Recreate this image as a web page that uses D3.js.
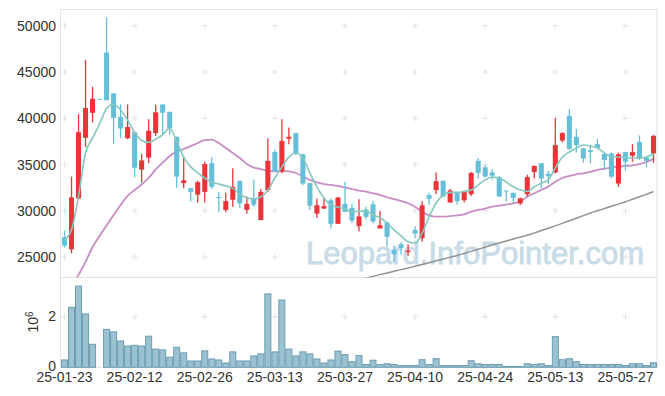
<!DOCTYPE html>
<html lang="en">
<head>
<meta charset="utf-8">
<title>Candle chart</title>
<script src="https://cdn.jsdelivr.net/npm/d3@7"></script>
<style>
  html, body { margin:0; padding:0; background:#fff; }
  svg { display:block; font-family:"Liberation Sans", Arial, sans-serif; }
  .axis text { fill:#333; font-size:14px; }
  .axis path, .axis line { display:none; }
</style>
</head>
<body>
<script>
// trading days
var dates = ["25-01-23","25-01-24","25-01-31","25-02-03","25-02-04","25-02-05","25-02-06","25-02-07","25-02-10","25-02-11",
  "25-02-12","25-02-13","25-02-14","25-02-17","25-02-18","25-02-19","25-02-20","25-02-21","25-02-24","25-02-25",
  "25-02-26","25-02-27","25-02-28","25-03-04","25-03-05","25-03-06","25-03-07","25-03-10","25-03-11","25-03-12",
  "25-03-13","25-03-14","25-03-17","25-03-18","25-03-19","25-03-20","25-03-21","25-03-24","25-03-25","25-03-26",
  "25-03-27","25-03-28","25-03-31","25-04-01","25-04-02","25-04-03","25-04-04","25-04-07","25-04-08","25-04-09",
  "25-04-10","25-04-11","25-04-14","25-04-15","25-04-16","25-04-17","25-04-18","25-04-21","25-04-22","25-04-23",
  "25-04-24","25-04-25","25-04-28","25-04-29","25-04-30","25-05-02","25-05-07","25-05-08","25-05-09","25-05-12",
  "25-05-13","25-05-14","25-05-15","25-05-16","25-05-19","25-05-20","25-05-21","25-05-22","25-05-23","25-05-26",
  "25-05-27","25-05-28","25-05-29","25-05-30","25-06-02"];

var opens = [27150,25850,31350,37900,40600,42100,47100,42700,40150,37850,
  38500,34450,35750,38400,41500,40700,38000,33000,32450,31750,
  32050,35150,31500,30100,31200,33250,30100,31300,29000,32250,
  36350,34250,37800,38400,36100,33000,29700,30250,31150,28600,
  30750,30300,28350,30150,30700,28100,28750,25800,26400,25550,
  27950,27050,31700,32250,33250,30900,32050,31150,31800,35400,
  34700,34150,33650,32200,31950,30800,31800,34200,35150,34000,
  34150,37600,40250,38000,36750,36550,37200,36150,36200,32950,
  36350,35950,37450,35750,36200];
var highs = [27850,33700,40450,46300,43400,42100,50900,42700,41500,41500,
  38500,36150,39900,41450,41500,40700,38000,35900,32450,33250,
  35300,35800,32050,31950,34600,33250,31550,33400,32350,37850,
  36600,39900,39000,38400,36200,33000,31300,31400,31350,31500,
  33150,30800,31250,30450,31100,30000,28750,26250,26600,26400,
  28350,31050,31950,34150,33250,32350,32050,32200,34200,35700,
  34900,34500,33800,32200,31950,31450,33900,34900,35150,34300,
  40000,38500,41000,38850,36800,37150,37750,36200,36300,36300,
  36400,37200,38150,35800,38200];
var lows = [26050,25400,31250,36900,39550,42100,41950,37200,37850,37750,
  33600,33050,35150,38100,38300,38200,32500,32450,31000,30900,
  30900,32350,29900,29850,30450,30300,29700,30450,29000,32050,
  34200,34050,37200,36000,32800,30100,29250,30200,28100,28600,
  29900,28650,27800,29100,28650,28100,26150,24450,25250,25150,
  27050,26650,30650,31800,31500,30900,30650,30900,31600,33500,
  33600,33350,31500,31000,30900,30600,31550,33500,32450,32900,
  34050,37400,36600,36300,35200,35150,36700,34500,33500,32600,
  34350,35300,35500,34700,35200];
var closes = [26250,31450,38500,41100,42100,42100,41950,40050,38900,39050,
  34650,35450,38650,40650,40600,38950,33700,33300,32050,33100,
  35050,32600,31400,31050,32600,30800,30750,30650,32050,35400,
  34250,37550,38000,36200,32950,30550,30600,30500,28600,31450,
  29900,28950,29400,29350,28850,28450,27200,25300,26000,25700,
  27550,30600,31300,33200,31550,32200,31050,32100,34100,34100,
  33700,33800,31550,32150,31400,31350,33650,34850,33500,33750,
  37100,38400,36700,37100,35650,36350,36800,35500,33700,36100,
  35300,36350,35650,35400,38100];
// volume, in 10^6 shares
var volumes = [0.29,2.37,3.21,2.11,0.91,0,1.50,1.40,1.04,0.84,
  0.87,0.84,1.23,0.72,0.69,0.40,0.79,0.57,0.25,0.25,
  0.65,0.33,0.29,0.17,0.61,0.25,0.25,0.45,0.53,2.90,
  0.61,2.66,0.72,0.45,0.61,0.53,0.33,0.17,0.29,0.64,
  0.50,0.22,0.46,0.11,0.28,0.11,0.14,0.11,0.07,0.07,
  0.07,0.30,0.11,0.34,0.07,0.07,0.07,0.07,0.26,0.14,
  0.11,0.11,0.11,0.03,0.03,0.03,0.14,0.11,0.14,0.07,
  1.21,0.30,0.34,0.22,0.11,0.11,0.11,0.11,0.11,0.11,
  0.07,0.14,0.14,0.07,0.18];
// moving averages as drawn
var ma5 = [26850,27950,31600,36250,37850,39400,41050,41550,40900,39800,
  38500,37600,37400,37750,38200,38950,37450,35800,34750,34100,
  33550,33100,32900,32700,32450,31800,31400,31300,31500,32250,
  33550,34750,35800,36250,35700,34100,32600,31400,30650,30400,
  30200,29900,29950,30000,29550,29250,28700,27950,27300,26650,
  26500,27600,29350,30850,31700,32000,32000,32100,32250,32800,
  33350,33650,33550,33100,32600,32250,32100,32600,33000,33350,
  34650,35820,36360,36790,37120,37010,36790,36250,35820,35820,
  35760,35710,35710,35820,36140];
var ma20 = [null,21750,23080,24480,26100,27290,28430,29560,30640,31610,
  32260,32850,33550,34470,35200,35930,36410,36680,37000,37330,
  37650,37700,37330,36790,36250,35710,35060,34680,34520,34310,
  34260,34310,34260,34090,33720,33340,33070,32900,32800,32690,
  32530,32360,32180,32070,31900,31720,31470,31280,31070,30820,
  30450,29910,29520,29370,29370,29440,29520,29630,29910,30100,
  30240,30450,30560,30670,30820,31000,31530,31900,32260,32620,
  33140,33550,33770,33950,34060,34200,34420,34560,34670,34770,
  34850,34920,35060,35280,35610];
var ma60 = Array(42).fill(null).concat([22580,22760,22920,23110,23290,23480,23650,23830,
  24020,24210,24400,24600,24790,24990,25180,25400,25620,25850,
  26080,26320,26530,26750,26960,27160,27370,27620,27870,28120,
  28380,28650,28930,29200,29480,29770,30010,30260,30500,30730,
  30980,31250,31520,31800,32080]);
var priceTicks = [25000,30000,35000,40000,45000,50000];
var volTicks = [0,2];
var dateTickIdx = [0,10,20,30,40,50,60,70,80];

var W = 665, H = 396;
var pl = 61, pr = 657, pt = 10, pm = 277.5, pb = 367.3;

var svg = d3.select("body").append("svg").attr("width", W).attr("height", H);

var x = d3.scaleBand().domain(d3.range(dates.length)).range([pl, pr]);
var bw = x.bandwidth();
var cx = function(i) { return x(i) + bw / 2; };
var yP = d3.scaleLinear().domain([22800, 51700]).range([pm, pt]);
var yV = d3.scaleLinear().domain([0, 3.55]).range([pb, pm]);

svg.append("defs").append("clipPath").attr("id", "pclip")
  .append("rect").attr("x", pl).attr("y", pt).attr("width", pr - pl).attr("height", pm - pt);

// frame
var frame = svg.append("g").attr("stroke", "#e4e4e4").attr("fill", "none");
frame.append("rect").attr("x", pl - 0.5).attr("y", pt - 0.5).attr("width", pr - pl + 0.5).attr("height", pb - pt + 0.5);
frame.append("line").attr("x1", pl).attr("x2", pr).attr("y1", pm).attr("y2", pm);

// grid crosses at tick intersections
var crosses = [];
dateTickIdx.forEach(function(i) {
  priceTicks.forEach(function(p) { crosses.push([cx(i), yP(p)]); });
  crosses.push([cx(i), yV(2)]);
});
svg.append("g").selectAll("path").data(crosses).enter().append("path")
  .attr("d", function(d) { return "M" + (d[0] - 3) + "," + d[1] + "h6M" + d[0] + "," + (d[1] - 3) + "v6"; })
  .attr("stroke", "#e2e2e2").attr("stroke-width", 1);

// watermark
svg.append("text").attr("x", 306).attr("y", 264)
  .attr("font-size", 32).attr("fill", "#c8dce7")
  .attr("stroke", "#c8dce7").attr("stroke-width", 0.8)
  .attr("textLength", 338).attr("lengthAdjust", "spacingAndGlyphs")
  .text("Leopard.InfoPointer.com");

// volume bars
var vg = svg.append("g");
volumes.forEach(function(v, i) {
  if (!v) return;
  vg.append("rect")
    .attr("x", x(i) + 0.5).attr("y", yV(v))
    .attr("width", bw - 1).attr("height", yV(0) - yV(v))
    .attr("fill", "#9cc2d2").attr("stroke", "#6a9db3").attr("stroke-width", 1);
});

// moving average lines
var lineGen = d3.line()
  .defined(function(d) { return d != null; })
  .x(function(d, i) { return cx(i); })
  .y(function(d) { return yP(d); })
  .curve(d3.curveMonotoneX);
var lines = svg.append("g").attr("clip-path", "url(#pclip)").attr("fill", "none");
lines.append("path").attr("d", lineGen(ma60)).attr("stroke", "#929292").attr("stroke-width", 1.5);
lines.append("path").attr("d", lineGen(ma20)).attr("stroke", "#c98dc5").attr("stroke-width", 1.8);

// candles
var cg = svg.append("g");
dates.forEach(function(d, i) {
  var o = opens[i], c = closes[i];
  var col = c > o ? "#ec3338" : "#66bfd9";
  cg.append("line").attr("x1", cx(i)).attr("x2", cx(i))
    .attr("y1", yP(highs[i])).attr("y2", yP(lows[i]))
    .attr("stroke", col).attr("stroke-width", 1.3);
  var yt = yP(Math.max(o, c)), yb = yP(Math.min(o, c));
  cg.append("rect").attr("x", cx(i) - bw * 0.36).attr("width", bw * 0.72)
    .attr("y", yt).attr("height", Math.max(1, yb - yt))
    .attr("fill", col);
});

var ma5g = svg.append("g").attr("clip-path", "url(#pclip)").attr("fill", "none");
ma5g.append("path").attr("d", lineGen(ma5)).attr("stroke", "#86c8bf").attr("stroke-width", 1.6);

// axes
svg.append("g").attr("class", "axis").attr("transform", "translate(" + (pl - 5) + ",0)")
  .call(d3.axisLeft(yP).tickValues(priceTicks).tickSize(0).tickPadding(0).tickFormat(d3.format("d")));
svg.append("g").attr("class", "axis").attr("transform", "translate(" + (pl - 5) + ",-1)")
  .call(d3.axisLeft(yV).tickValues(volTicks).tickSize(0).tickPadding(0).tickFormat(d3.format("d")));
svg.append("g").attr("class", "axis").attr("transform", "translate(0," + (pb + 5) + ")")
  .call(d3.axisBottom(x).tickValues(dateTickIdx).tickSize(0).tickPadding(0)
    .tickFormat(function(i) { return dates[i]; }));

var vl = svg.append("text").attr("transform", "translate(38,322) rotate(-90)")
  .attr("text-anchor", "middle").attr("fill", "#333").attr("font-size", 14);
vl.append("tspan").text("10");
vl.append("tspan").attr("font-size", 10).attr("dy", -5).text("6");
</script>
</body>
</html>
